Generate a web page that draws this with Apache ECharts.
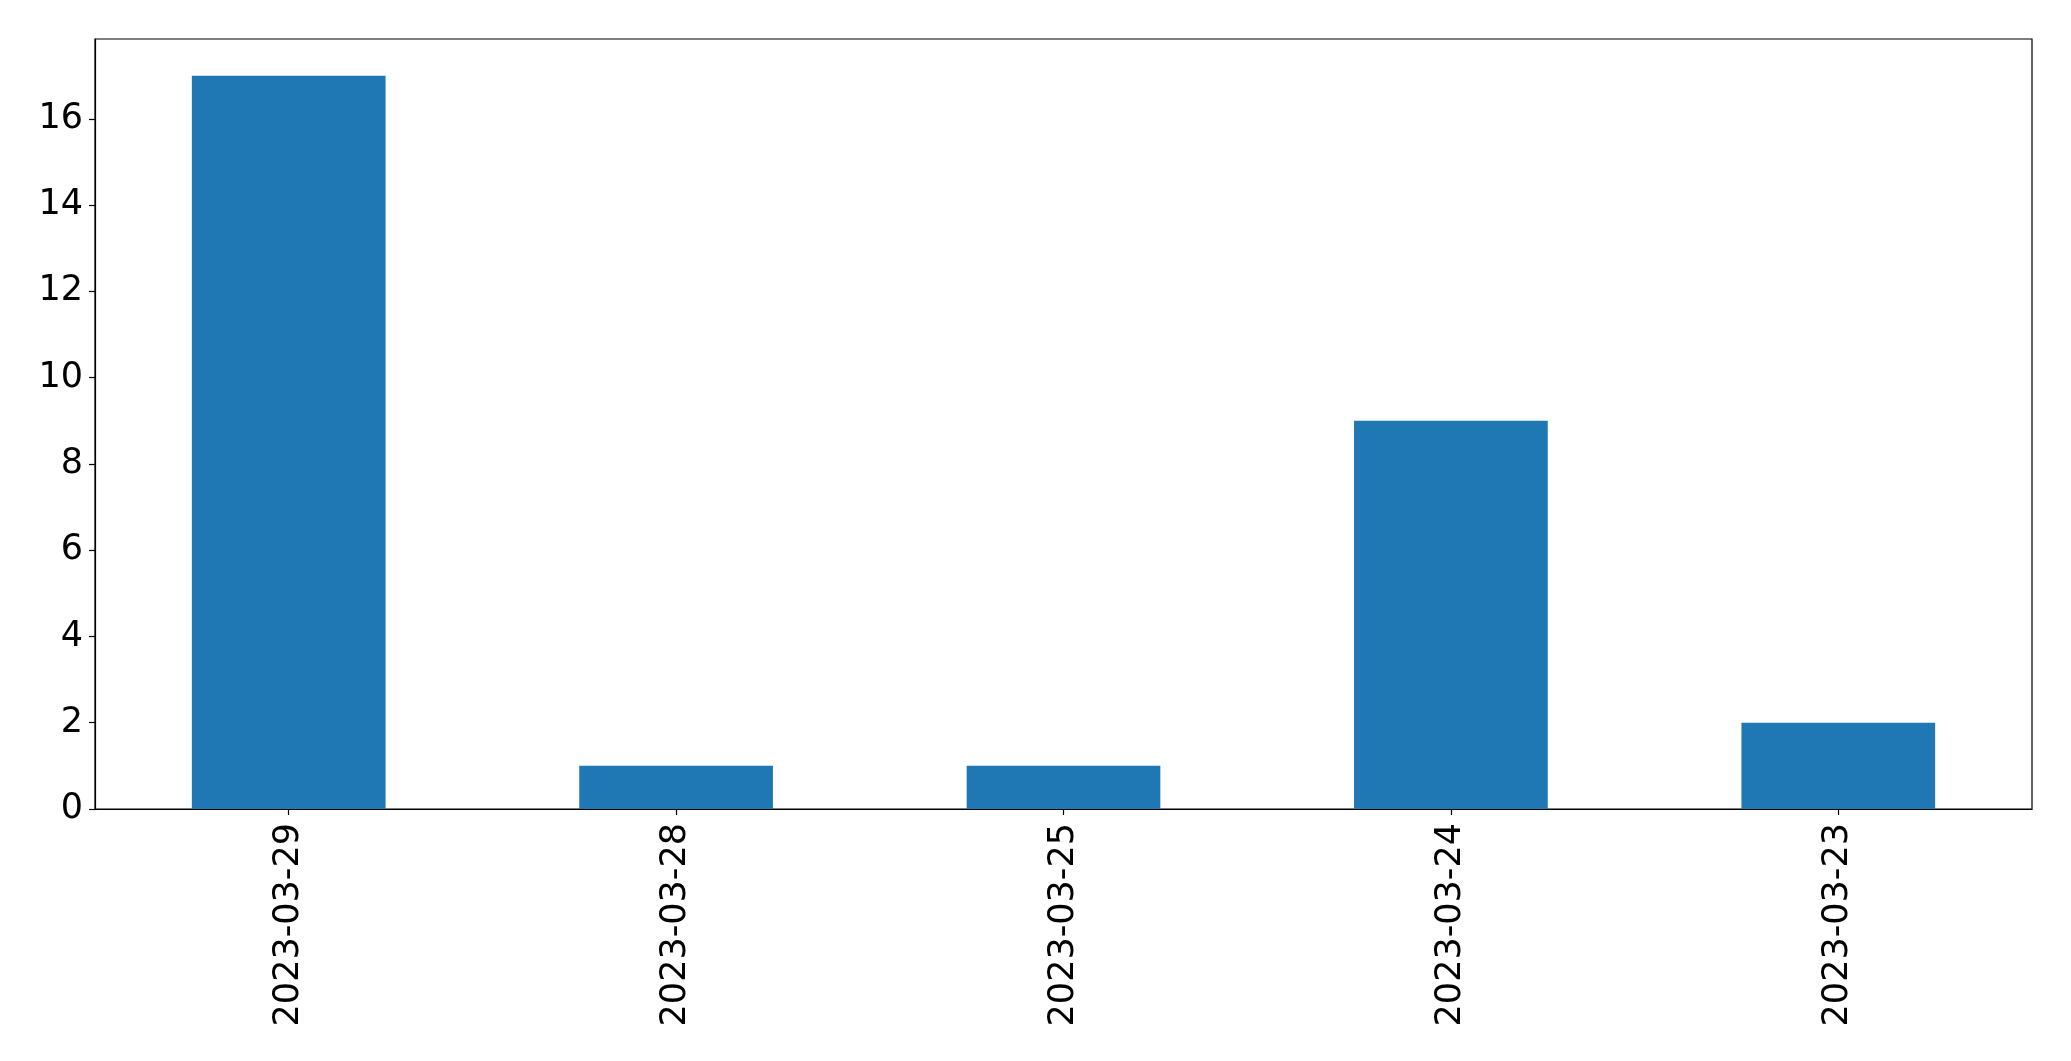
<!DOCTYPE html>
<html>
<head>
<meta charset="utf-8">
<script src="https://cdn.jsdelivr.net/npm/echarts@6/dist/echarts.min.js"></script>
<style>html,body{margin:0;padding:0;background:#fff;}#c{width:2071px;height:1061px;}</style>
</head>
<body>
<div id="c"></div>
<script>
const categories = ['2023-03-29', '2023-03-28', '2023-03-25', '2023-03-24', '2023-03-23'];
const values = [17, 1, 1, 9, 2];
const yTicks = [0, 2, 4, 6, 8, 10, 12, 14, 16];
const yMax = 17.85;

const chart = echarts.init(document.getElementById('c'), null, {renderer: 'canvas'});
const font = 'DejaVu Sans';
chart.setOption({
  animation: false,
  backgroundColor: '#fff',
  grid: {left: 95, right: 39, top: 39, bottom: 252, show: true, borderColor: '#000', borderWidth: 1.2, backgroundColor: 'transparent'},
  xAxis: {
    type: 'category',
    data: categories,
    boundaryGap: true,
    axisLine: {show: true, lineStyle: {color: '#000', width: 1.2}},
    axisTick: {show: true, alignWithLabel: true, length: 6, lineStyle: {color: '#000', width: 1.2}},
    axisLabel: {rotate: 90, color: '#000', fontFamily: font, fontSize: 35, margin: 14, interval: 0},
    splitLine: {show: false}
  },
  yAxis: {
    type: 'value',
    min: 0,
    max: yMax,
    axisLine: {show: true, lineStyle: {color: '#000', width: 1.2}},
    axisTick: {show: true, length: 6, customValues: yTicks, lineStyle: {color: '#000', width: 1.2}},
    axisLabel: {color: '#000', fontFamily: font, fontSize: 35, margin: 12, customValues: yTicks},
    splitLine: {show: false}
  },
  series: [{
    type: 'bar',
    data: values,
    barWidth: '50%',
    itemStyle: {color: '#1f77b4'}
  }]
});
</script>
</body>
</html>
